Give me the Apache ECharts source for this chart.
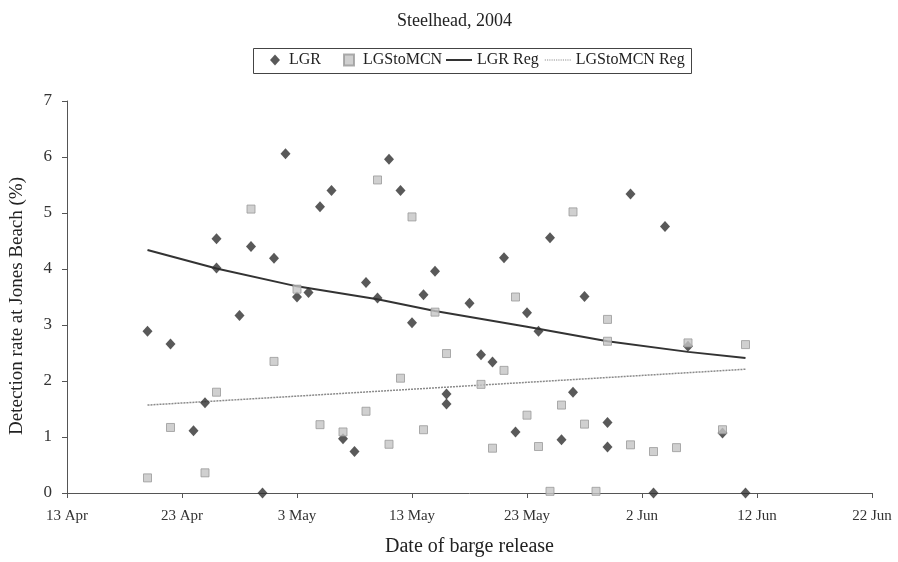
<!DOCTYPE html>
<html>
<head>
<meta charset="utf-8">
<title>Steelhead, 2004</title>
<script src="https://cdn.jsdelivr.net/npm/echarts@6/dist/echarts.min.js"></script>
<style>
  html, body { margin: 0; padding: 0; background: #fff; }
  #chart { width: 898px; height: 562px; }
</style>
</head>
<body>
<div id="chart"></div>
<script>
// release dates (month-day, 2004) and detection rates (%)
var lgrDates = ["4-20","4-22","4-24","4-25","4-26","4-26","4-28","4-29","4-30","5-1","5-2","5-3","5-4","5-5","5-6",
  "5-7","5-8","5-9","5-10","5-11","5-12","5-13","5-14","5-15","5-16","5-16","5-18","5-19","5-20","5-21","5-22",
  "5-23","5-24","5-25","5-26","5-27","5-28","5-30","5-30","6-1","6-3","6-4","6-6","6-9","6-11"];
var lgrRates = [2.89,2.66,1.11,1.61,4.54,4.02,3.17,4.40,0,4.19,6.06,3.50,3.58,5.11,5.40,
  0.97,0.74,3.76,3.48,5.96,5.40,3.04,3.54,3.96,1.77,1.59,3.39,2.47,2.34,4.20,1.09,
  3.22,2.89,4.56,0.95,1.80,3.51,1.26,0.82,5.34,0,4.76,2.62,1.07,0];

var lgsDates = ["4-20","4-22","4-25","4-26","4-29","5-1","5-3","5-5","5-7","5-9","5-10","5-11","5-12","5-13","5-14",
  "5-15","5-16","5-19","5-20","5-21","5-22","5-23","5-24","5-25","5-26","5-27","5-28","5-29","5-30","5-30",
  "6-1","6-3","6-5","6-6","6-9","6-11"];
var lgsRates = [0.27,1.17,0.36,1.80,5.07,2.35,3.64,1.22,1.09,1.46,5.59,0.87,2.05,4.93,1.13,
  3.23,2.49,1.94,0.80,2.19,3.50,1.39,0.83,0.03,1.57,5.02,1.23,0.03,3.10,2.71,
  0.86,0.74,0.81,2.68,1.13,2.65];

// fitted lines
var lgrRegDates = ["4-20","4-26","5-3","5-10","5-15","5-23","5-30","6-6","6-11"];
var lgrRegRates = [4.34,4.01,3.69,3.46,3.25,2.97,2.71,2.52,2.41];
var lgsRegDates = ["4-20","6-11"];
var lgsRegRates = [1.57,2.21];

var xTickLabels = ["13 Apr","23 Apr","3 May","13 May","23 May","2 Jun","12 Jun","22 Jun"];

var startDay = Date.UTC(2004, 3, 13);
function dayOf(md) {
  var p = md.split("-");
  return (Date.UTC(2004, +p[0] - 1, +p[1]) - startDay) / 86400000;
}
function pairs(dates, rates) {
  return dates.map(function (d, i) { return [dayOf(d), rates[i]]; });
}

var serif = "Liberation Serif";
var legendText = { fontFamily: serif, fontSize: 16, color: "#222" };
// dotted legend swatch for the LGStoMCN fit
var dottedIcon = "path://M0,0h1v1h-1z M2,0h1v1h-1z M4,0h1v1h-1z M6,0h1v1h-1z M8,0h1v1h-1z M10,0h1v1h-1z " +
  "M12,0h1v1h-1z M14,0h1v1h-1z M16,0h1v1h-1z M18,0h1v1h-1z M20,0h1v1h-1z M22,0h1v1h-1z";

var option = {
  animation: false,
  backgroundColor: "#fff",
  title: {
    text: "Steelhead, 2004",
    left: 392,
    top: 7,
    textStyle: { fontFamily: serif, fontSize: 18, fontWeight: "normal", color: "#222" },
  },
  graphic: [
    {
      type: "rect",
      shape: { x: 253.5, y: 48.5, width: 438, height: 25 },
      style: { fill: "none", stroke: "#444", lineWidth: 1 },
    },
  ],
  legend: [
    {
      left: 270,
      top: 52,
      padding: 0,
      itemGap: 22,
      itemWidth: 10,
      itemHeight: 11,
      formatter: " {name}",
      textStyle: legendText,
      data: ["LGR", "LGStoMCN"],
    },
    {
      left: 446,
      top: 52,
      padding: 0,
      itemGap: 6,
      itemWidth: 26,
      itemHeight: 2,
      textStyle: legendText,
      data: [
        { name: "LGR Reg", icon: "rect" },
        { name: "LGStoMCN Reg", icon: dottedIcon },
      ],
    },
  ],
  grid: { left: 67, right: 26, top: 101, bottom: 68, containLabel: false },
  xAxis: {
    type: "value",
    min: 0,
    max: 70,
    interval: 10,
    name: "Date of barge release",
    nameLocation: "middle",
    nameGap: 44,
    nameTextStyle: { fontFamily: serif, fontSize: 20, color: "#222" },
    axisLine: { lineStyle: { color: "#555", width: 1 } },
    axisTick: { show: true, length: 5, lineStyle: { color: "#555" } },
    axisLabel: {
      margin: 16,
      fontFamily: serif,
      fontSize: 15,
      color: "#333",
      formatter: function (v) { return xTickLabels[Math.round(v / 10)]; },
    },
    splitLine: { show: false },
  },
  yAxis: {
    type: "value",
    min: 0,
    max: 7,
    interval: 1,
    name: "Detection rate at Jones Beach (%)",
    nameLocation: "middle",
    nameGap: 40,
    nameTextStyle: { fontFamily: serif, fontSize: 19, color: "#222", padding: [0, 18, 0, 0] },
    axisLine: { show: true, lineStyle: { color: "#555", width: 1 } },
    axisTick: { show: true, length: 5, lineStyle: { color: "#555" } },
    axisLabel: { margin: 15, fontFamily: serif, fontSize: 17, color: "#333" },
    splitLine: { show: false },
  },
  series: [
    {
      name: "LGR",
      type: "scatter",
      symbol: "diamond",
      symbolSize: [10, 11],
      itemStyle: { color: "#2f2f2f" },
      data: pairs(lgrDates, lgrRates),
      z: 3,
    },
    {
      name: "LGStoMCN",
      type: "scatter",
      symbol: "rect",
      symbolSize: 8,
      itemStyle: { color: "#c4c4c4", borderColor: "#9a9a9a", borderWidth: 1 },
      data: pairs(lgsDates, lgsRates),
      z: 4,
    },
    {
      name: "LGR Reg",
      type: "line",
      symbol: "none",
      lineStyle: { color: "#333", width: 2 },
      itemStyle: { color: "#333" },
      data: pairs(lgrRegDates, lgrRegRates),
      z: 2,
    },
    {
      name: "LGStoMCN Reg",
      type: "line",
      symbol: "none",
      lineStyle: { color: "#8a8a8a", width: 1.5, type: [2, 1] },
      itemStyle: { color: "#8a8a8a" },
      data: pairs(lgsRegDates, lgsRegRates),
      z: 2,
    },
  ],
};

var myChart = echarts.init(document.getElementById("chart"));
myChart.setOption(option);
</script>
</body>
</html>
